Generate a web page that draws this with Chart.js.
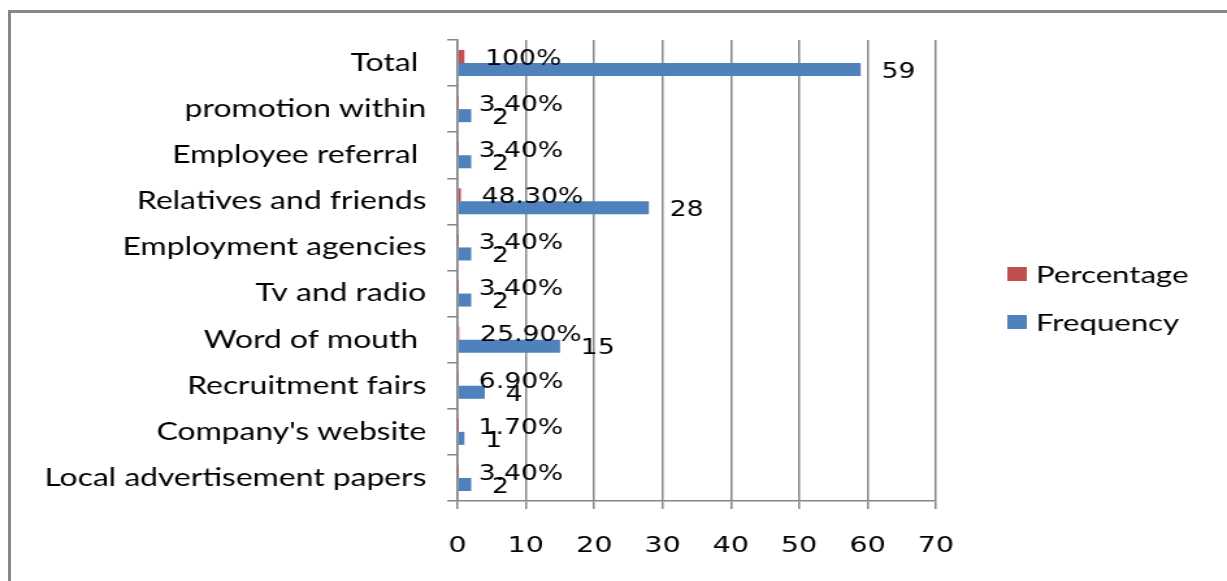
<!DOCTYPE html>
<html>
<head>
<meta charset="utf-8">
<title>Recruitment sources</title>
<script src="https://cdn.jsdelivr.net/npm/chart.js@4/dist/chart.umd.min.js"></script>
<style>
  html, body { margin: 0; padding: 0; background: #fff; overflow: hidden; width: 1227px; height: 581px; }
  #frame { position: absolute; left: 8px; top: 10px; width: 1400px; height: 800px;
           border-left: 3px solid #888; border-top: 3px solid #888; }
  /* the chart is laid out narrow and widened to the full page */
  #stage { position: absolute; left: 0; top: 0; width: 944px; height: 581px;
           transform: scaleX(1.29979); transform-origin: 0 0; }
</style>
</head>
<body>
<div id="frame"></div>
<div id="stage"><canvas id="chart" width="944" height="581"></canvas></div>
<script>
(() => {
  'use strict';

  const sources = ['Total ', 'promotion within', 'Employee referral ', 'Relatives and friends',
    'Employment agencies', 'Tv and radio', 'Word of mouth ', 'Recruitment fairs',
    "Company's website", 'Local advertisement papers'];
  const percentage = [1, 0.034, 0.034, 0.483, 0.034, 0.034, 0.259, 0.069, 0.017, 0.034];
  const frequency = [59, 2, 2, 28, 2, 2, 15, 4, 1, 2];
  const xMin = 0, xMax = 70, xStep = 10;

  const pctFmt = v => {
    const p = v * 100;
    return (p % 1 === 0 ? String(p) : p.toFixed(2)) + '%';
  };
  const labelFmts = [pctFmt, v => String(v)];

  const grey = '#868686';

  // value text just past the end of every bar
  const valueLabels = {
    id: 'valueLabels',
    afterDatasetsDraw(chart) {
      const { ctx } = chart;
      ctx.save();
      ctx.font = '20.5px "DejaVu Sans"';
      ctx.fillStyle = '#000';
      ctx.textAlign = 'left';
      ctx.textBaseline = 'middle';
      chart.data.datasets.forEach((ds, di) => {
        chart.getDatasetMeta(di).data.forEach((bar, i) => {
          ctx.fillText(labelFmts[di](ds.data[i]), bar.x + 16, bar.y + 3);
        });
      });
      ctx.restore();
    }
  };

  // series key on the right, one row per dataset
  const sideLegend = {
    id: 'sideLegend',
    afterDraw(chart) {
      const { ctx } = chart;
      ctx.save();
      ctx.font = '24px Lato';
      ctx.textAlign = 'left';
      ctx.textBaseline = 'middle';
      chart.data.datasets.forEach((ds, i) => {
        const cy = 274 + i * 48;
        ctx.fillStyle = ds.backgroundColor;
        ctx.fillRect(775, cy - 7, 15, 14);
        ctx.fillStyle = '#000';
        ctx.fillText(ds.label, 797, cy + 1);
      });
      ctx.restore();
    }
  };

  new Chart(document.getElementById('chart'), {
    type: 'bar',
    data: {
      labels: sources,
      datasets: [
        { label: 'Percentage', data: percentage, backgroundColor: '#C0504D',
          categoryPercentage: 0.565, barPercentage: 1 },
        { label: 'Frequency', data: frequency, backgroundColor: '#4F81BD',
          categoryPercentage: 0.565, barPercentage: 1 }
      ]
    },
    options: {
      indexAxis: 'y',
      responsive: false,
      animation: false,
      devicePixelRatio: 1,
      layout: { padding: { top: 40, bottom: 25, left: 0, right: 224 } },
      plugins: {
        legend: { display: false },
        tooltip: { enabled: false }
      },
      scales: {
        x: {
          min: xMin,
          max: xMax,
          ticks: { stepSize: xStep, font: { family: 'DejaVu Sans', size: 22 }, color: '#000', padding: 24 },
          grid: { color: grey, lineWidth: 1.5, tickLength: 8 },
          border: { color: grey, width: 1.5 },
          afterFit: s => { s.height = 55; }
        },
        y: {
          ticks: { font: { family: 'Lato', size: 24.5 }, color: '#000', padding: 16, autoSkip: false },
          grid: { color: grey, lineWidth: 1.5, tickLength: 8, drawOnChartArea: false, offset: true },
          border: { color: grey, width: 1.5 },
          afterFit: s => { s.width = 352; }
        }
      }
    },
    plugins: [valueLabels, sideLegend]
  });
})();
</script>
</body>
</html>
